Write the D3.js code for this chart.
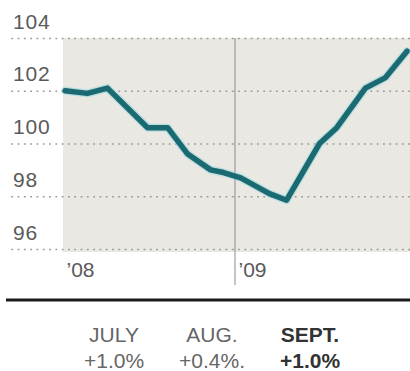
<!DOCTYPE html>
<html>
<head>
<meta charset="utf-8">
<script src="https://cdn.jsdelivr.net/npm/d3@7"></script>
<style>
  html, body { margin: 0; padding: 0; background: #fff; }
  svg { display: block; font-family: "Liberation Sans", Arial, Helvetica, sans-serif; }
</style>
</head>
<body>
<svg id="chart" width="410" height="371"></svg>
<script>
// ---- data ----
const months = [0.15, 1.7, 3.1, 5.9, 7.3, 8.7, 10.3, 11.2, 12.4, 14.4, 15.6, 17.9, 19.1, 21.1, 22.5, 24];
const values = [102.0, 101.9, 102.1, 100.6, 100.6, 99.6, 99.0, 98.9, 98.7, 98.1, 97.85, 100.0, 100.6, 102.1, 102.5, 103.5];
const yTicks = [96, 98, 100, 102, 104];
const xTickValues = [0, 12];
const xTickLabels = ["\u201908", "\u201909"];
const noteMonths = ["JULY", "AUG.", "SEPT."];
const noteChanges = ["+1.0%", "+0.4%.", "+1.0%"];
const noteBold = [false, false, true];

// ---- layout ----
const svg = d3.select("#chart");
const x = d3.scaleLinear().domain([0, 24]).range([63, 407]);
const y = d3.scaleLinear().domain([96, 104]).range([249, 38]);

// plot background
svg.append("rect")
  .attr("x", x(0)).attr("y", y(104))
  .attr("width", 410 - x(0)).attr("height", y(96) + 3 - y(104))
  .attr("fill", "#e9e8e2");

// y gridlines + labels via axis
const yAxis = d3.axisLeft(y).tickValues(yTicks).tickSize(403).tickFormat(d3.format("d"));
const gy = svg.append("g").attr("transform", "translate(410,0)").call(yAxis);
gy.select(".domain").remove();
gy.selectAll(".tick line")
  .attr("stroke", "#9a9a96").attr("stroke-width", 1.6)
  .attr("stroke-dasharray", "1.8,4.5");
gy.selectAll(".tick text")
  .attr("x", -397).attr("dy", -10).attr("text-anchor", "start")
  .attr("fill", "#5a5a5a").attr("font-size", 21).attr("letter-spacing", 0.8);

// vertical year line at '09
svg.append("line")
  .attr("x1", x(12)).attr("x2", x(12))
  .attr("y1", y(104)).attr("y2", 285)
  .attr("stroke", "#8a8a8a").attr("stroke-width", 1);

// x labels via axis
const xAxis = d3.axisBottom(x).tickValues(xTickValues).tickSize(0)
  .tickFormat((d, i) => xTickLabels[i]);
const gx = svg.append("g").attr("transform", "translate(0,262)").call(xAxis);
gx.select(".domain").remove();
gx.selectAll(".tick text")
  .attr("text-anchor", "start").attr("x", 3).attr("y", 0).attr("dy", 15)
  .attr("fill", "#5a5a5a").attr("font-size", 21);

// line
const pts = months.map((m, i) => [m, values[i]]);
const line = d3.line().x(d => x(d[0])).y(d => y(d[1]));
svg.append("path").datum(pts)
  .attr("d", line).attr("fill", "none")
  .attr("stroke", "#8fd6de").attr("stroke-width", 8).attr("stroke-opacity", 0.55)
  .attr("stroke-linejoin", "round").attr("stroke-linecap", "round");
svg.append("path").datum(pts)
  .attr("d", line).attr("fill", "none")
  .attr("stroke", "#1b6a72").attr("stroke-width", 5.5)
  .attr("stroke-linejoin", "round").attr("stroke-linecap", "round");

// bottom rule
svg.append("line")
  .attr("x1", 6).attr("x2", 410).attr("y1", 300).attr("y2", 300)
  .attr("stroke", "#1a1a1a").attr("stroke-width", 3);

// notes
const nx = d3.scalePoint().domain(noteMonths).range([114, 310]);
const notes = svg.append("g").selectAll("g").data(noteMonths).join("g")
  .attr("transform", d => `translate(${nx(d)},0)`);
notes.append("text")
  .attr("y", 342).attr("text-anchor", "middle").attr("font-size", 21)
  .attr("font-weight", (d, i) => noteBold[i] ? "bold" : "normal")
  .attr("fill", (d, i) => noteBold[i] ? "#333" : "#666")
  .text(d => d);
notes.append("text")
  .attr("y", 368).attr("text-anchor", "middle").attr("font-size", 21)
  .attr("font-weight", (d, i) => noteBold[i] ? "bold" : "normal")
  .attr("fill", (d, i) => noteBold[i] ? "#333" : "#666")
  .text((d, i) => noteChanges[i]);
</script>
</body>
</html>
